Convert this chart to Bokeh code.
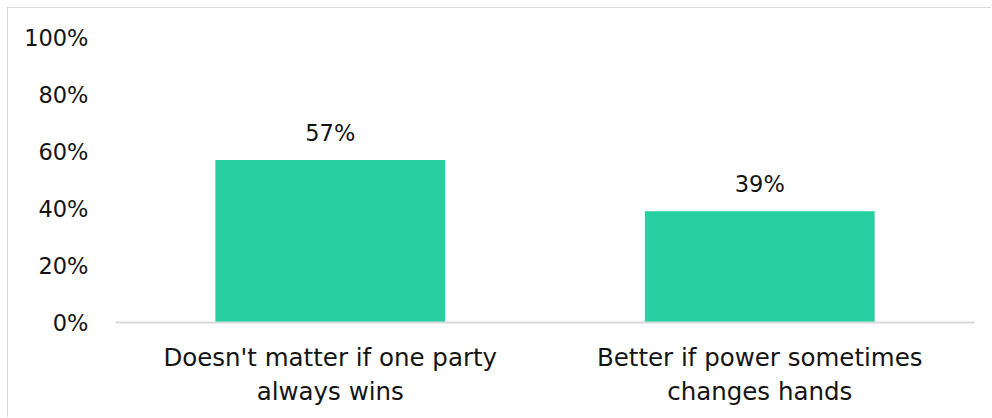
from bokeh.plotting import figure
from bokeh.models import ColumnDataSource, Range1d, FactorRange, NumeralTickFormatter, FixedTicker
from bokeh.core.properties import value
from bokeh.embed import file_html
from bokeh.resources import INLINE

categories = ["Doesn't matter if one party\nalways wins", "Better if power sometimes\nchanges hands"]
values = [0.57, 0.39]
labels = ["57%", "39%"]
y_ticks = [0, 0.2, 0.4, 0.6, 0.8, 1.0]

FONT = "DejaVu Sans"
FS = "22.5px"
FSX = "24.5px"
TXT = "#141414"
src = ColumnDataSource(dict(cat=categories, val=values, lab=labels))

p = figure(x_range=FactorRange(*categories), y_range=Range1d(0, 1),
           width=984, height=410, output_backend="svg", toolbar_location=None,
           min_border_left=107, min_border_right=18, min_border_top=29, min_border_bottom=96)
p.styles = {"margin-left": "7px", "margin-top": "7px",
            "border-top": "1px solid #d9d9d9", "border-left": "1px solid #d9d9d9"}
p.outline_line_color = None
p.grid.visible = False

p.vbar(x="cat", top="val", width=0.535, source=src, color="#26D0A0", line_color=None)
p.text(x="cat", y="val", text="lab", source=src, text_align="center", text_baseline="alphabetic",
       y_offset=-27, text_font=value(FONT), text_font_size=FS, text_color=TXT)

p.yaxis.ticker = FixedTicker(ticks=y_ticks)
p.yaxis.formatter = NumeralTickFormatter(format="0%")
p.yaxis.axis_line_color = None
p.yaxis.major_tick_line_color = None
p.yaxis.minor_tick_line_color = None
p.yaxis.major_label_standoff = 21
p.yaxis.major_label_text_font = FONT
p.yaxis.major_label_text_font_size = FS
p.yaxis.major_label_text_color = TXT

p.xaxis.axis_line_color = "#d9d9d9"
p.xaxis.axis_line_width = 2
p.xaxis.major_tick_line_color = None
p.xaxis.minor_tick_line_color = None
p.xaxis.major_label_standoff = 14
p.xaxis.major_label_text_font = FONT
p.xaxis.major_label_text_font_size = FSX
p.xaxis.major_label_text_color = TXT
p.xaxis.major_label_text_line_height = 1.2

open("out.html", "w").write(file_html(p, INLINE))
